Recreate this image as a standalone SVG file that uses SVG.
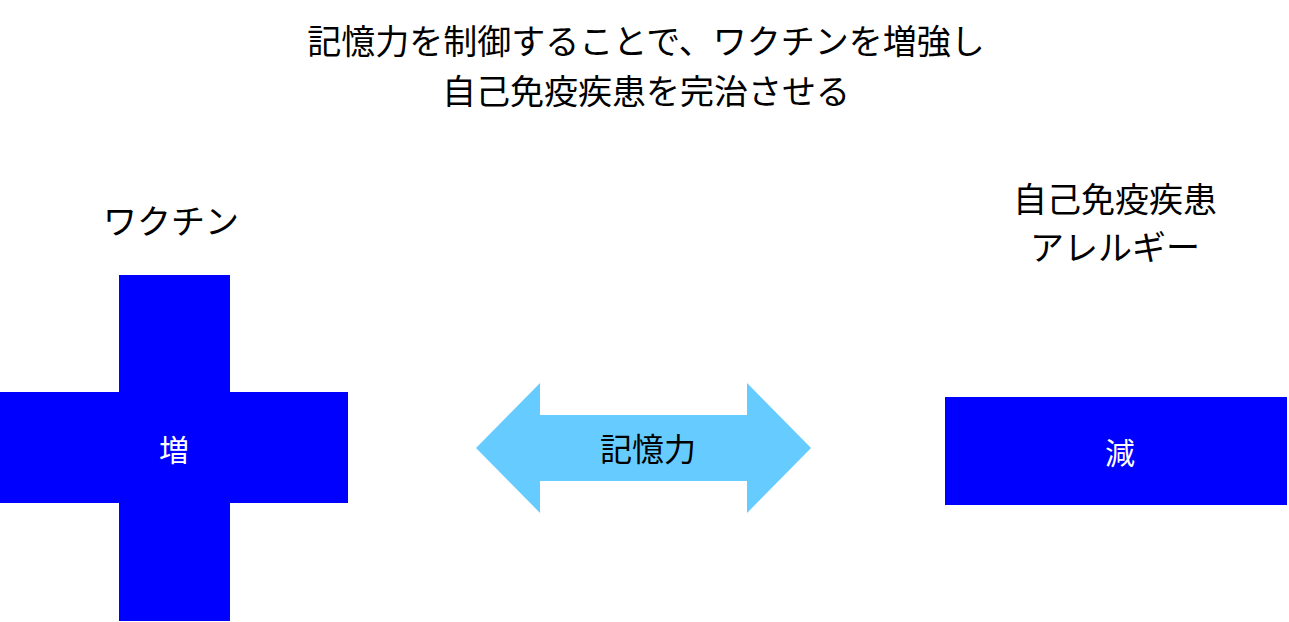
<svg xmlns="http://www.w3.org/2000/svg" width="1289" height="622" viewBox="0 0 1289 622">
<style>
text{font-family:"Liberation Sans","Noto Sans CJK JP",sans-serif;text-anchor:middle;dominant-baseline:central}
.t{font-size:34px;fill:#000}
.w{font-size:30px;fill:#fff}
.b{fill:#0000ff}
</style>
<rect width="1289" height="622" fill="#fff"/>
<g id="title">
<text class="t" x="646" y="42">記憶力を制御することで、ワクチンを増強し</text>
<text class="t" x="646" y="92">自己免疫疾患を完治させる</text>
</g>
<g id="vaccine">
<text class="t" x="171" y="222">ワクチン</text>
<path class="b" d="M119 275H230V392H348V503H230V621H119V503H0V392H119Z"/>
<text class="w" x="174" y="450">増</text>
</g>
<g id="connectors">
<path d="M476 448L540 383V415H747V383L811 448L747 513V481H540V513Z" fill="#66ccff"/>
<text class="t" x="648" y="450" style="font-size:32px">記憶力</text>
</g>
<g id="autoimmune">
<text class="t" x="1115" y="200">自己免疫疾患</text>
<text class="t" x="1115" y="248">アレルギー</text>
<rect class="b" x="945" y="397" width="342" height="108"/>
<text class="w" x="1120" y="453">減</text>
</g>
</svg>
